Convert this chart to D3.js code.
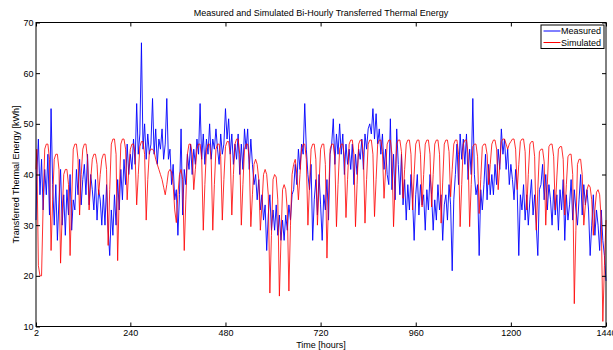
<!DOCTYPE html>
<html><head><meta charset="utf-8">
<script src="https://cdn.jsdelivr.net/npm/d3@7"></script>
<style>
body{margin:0;background:#fff}
svg{display:block}
text{font-family:"Liberation Sans",Arial,Helvetica,sans-serif;fill:#000}
</style>
</head><body>
<svg id="chart" width="613" height="350"></svg>
<script>
// ---- data (bi-hourly transferred thermal energy, kWh; sampled every 4 h) ----
const hours = [2].concat(d3.range(4, 1441, 4));
const measured = [31,
40,47,36,43,33,41, 36,44,32,53,38,30, 38,27,35,41,30,36, 28,37,32,40,29,35,
33,41,36,43,34,39, 42,36,44,34,40,37, 33,39,31,37,35,30, 36,30,38,29,24,33,
28,36,30,39,33,41, 35,43,38,46,40,44, 41,47,42,54,44,48, 66,45,50,43,48,44,
46,55,44,49,42,47, 45,49,43,46,55,43, 45,38,42,35,37,28, 36,49,32,41,38,44,
41,46,40,45,42,47, 44,54,43,48,42,47, 44,50,43,47,45,49, 45,42,48,44,46,53,
47,51,44,48,42,46, 43,48,40,46,41,49, 45,49,41,47,42,38, 40,35,39,33,36,31,
34,25,32,36,29,33, 29,34,28,32,27,31, 27,32,29,34,31,36, 37,42,38,45,41,46,
44,54,45,40,37,42, 27,35,39,32,40,34, 27,36,33,39,31,44, 46,51,42,48,44,50,
44,48,40,46,42,45, 41,46,38,44,40,45, 43,47,41,48,45,49, 50,48,53,47,52,46,
49,44,48,41,45,40, 38,51,37,44,35,49, 42,36,44,34,39,31, 38,33,40,35,27,36,
40,32,38,34,36,29, 37,33,40,36,29,35, 31,38,33,36,27,34, 36,31,38,34,21,35,
40,46,38,48,43,47, 42,48,39,45,40,55, 40,36,38,24,37,33, 38,44,35,42,36,40,
36,42,38,45,41,49, 44,47,41,45,38,42, 39,35,41,37,24,36, 33,38,31,36,30,35,
39,32,36,30,24,37, 38,42,35,40,33,38, 35,30,37,32,36,29, 37,33,39,27,36,31,
34,39,31,37,33,30, 35,40,32,38,34,37, 33,24,30,36,28,33, 30,25,33,27,24,19];
const simulated = [41,
45,22,20,20,34,45, 46,46,43,25,35,43, 44,44,41,22.5,32,40, 41,41,38,24,35,45,
46,46,43,32,40,45, 46,46,43,33,39,43, 44,44,42,36,40,43, 44,44,41,26,37,46,
47,47,44,23,36,46, 47,47,45,35,41,45, 46,46,44,34,40,45.5, 46.5,46.5,44,31,39,44.5,
45,45,44.5,43,42,41, 40,39,37.5,36,38,40.5, 41,40.5,38,33,30.5,36, 40,41,39,25,35,44,
46,46,44,37,41,45, 46,46,43,29,38,45, 46,46,43,29,38,45, 46,46,43.5,31,39,45.5,
46.5,46.5,44,32,40,46, 47,47,44,30,38,45, 46,46,43,29.7,36,42, 43,42,39,29,34,40,
41,40,36,16.6,28,39, 40,39.5,35,16,27,37, 38,37,33,17,30,40, 42,43,40,35,40,45,
46,46,43,30,38,45, 46,46,43,30,38,45, 46,46,42,23.5,35,45, 46,46,43,29.7,38,45,
46,46,43.5,31.5,39,46, 46.8,46.8,44,29.7,38,46, 46.8,46.8,44,30.4,39,46, 46.8,46.8,44,31.7,39,46,
46.8,46.8,44.5,35.3,41,46, 46.8,46.8,44,29.7,38,46, 46.8,46.8,44.5,35.3,41,46, 46.8,46.8,44,33,40,46,
46.8,46.8,44,33.6,40,46, 46.8,46.8,44,33.6,40,46, 46.8,46.8,44,30.4,38.5,46, 46.8,46.8,44.5,35.6,41,46,
46.8,46.8,44,29.7,38,46, 46.8,46.8,44,29.7,38,45.5, 46,46,43.5,32.3,39,45.5, 46,46,44,38,42,46,
46.8,46.8,45,37,42,46.5, 47,47,46,45,46,46.5, 47,47,45,37,42,46.5, 47,47,44.5,33,40,46,
46.5,46.5,43.5,29,37,44.5, 45,45,42.5,30,38,45.5, 46,46,43.5,33,39.5,45, 45.5,45.5,43,32,38,43.5,
44,44,40,14.5,29,42, 43,43,40,30,34,37, 38,37.5,35,28,33,36.5, 37,36,31,11,22,31];
const xTicks = [2, 240, 480, 720, 960, 1200, 1440];
const yTicks = [10, 20, 30, 40, 50, 60, 70];
const seriesNames = ["Measured", "Simulated"];
const seriesColors = ["#0000ff", "#ff0000"];

// ---- layout ----
const svg = d3.select("#chart");
const L = 36, R = 606, T = 22.5, B = 326.5;
const x = d3.scaleLinear().domain([2, 1440]).range([L, R]);
const y = d3.scaleLinear().domain([10, 70]).range([B, T]);

const line = d3.line().x((d, i) => x(hours[i])).y(d => y(d));

svg.append("path").datum(measured).attr("d", line)
  .attr("fill", "none").attr("stroke", seriesColors[0]).attr("stroke-width", 0.9);
svg.append("path").datum(simulated).attr("d", line)
  .attr("fill", "none").attr("stroke", seriesColors[1]).attr("stroke-width", 0.9).attr("stroke-opacity", 0.9);

// axes (inward ticks)
const fs = 9;
const fmt = d3.format("d");
function styleAxis(g, labels) {
  g.select(".domain").remove();
  g.selectAll("line").attr("stroke", "#000");
  g.selectAll("text").attr("font-size", fs).attr("font-family", '"Liberation Sans",Arial,sans-serif');
  if (!labels) g.selectAll("text").remove();
}
svg.append("g").attr("transform", `translate(0,${B})`)
  .call(d3.axisBottom(x).tickValues(xTicks).tickFormat(fmt).tickSizeInner(-4).tickSizeOuter(0).tickPadding(3.5))
  .call(g => styleAxis(g, true));
svg.append("g").attr("transform", `translate(0,${T})`)
  .call(d3.axisTop(x).tickValues(xTicks).tickSizeInner(-4).tickSizeOuter(0))
  .call(g => styleAxis(g, false));
svg.append("g").attr("transform", `translate(${L},0)`)
  .call(d3.axisLeft(y).tickValues(yTicks).tickFormat(fmt).tickSizeInner(-4).tickSizeOuter(0).tickPadding(2.5))
  .call(g => styleAxis(g, true));
svg.append("g").attr("transform", `translate(${R},0)`)
  .call(d3.axisRight(y).tickValues(yTicks).tickSizeInner(-4).tickSizeOuter(0))
  .call(g => styleAxis(g, false));

// box
svg.append("rect").attr("x", L).attr("y", T).attr("width", R - L).attr("height", B - T)
  .attr("fill", "none").attr("stroke", "#000").attr("stroke-width", 1);

// title and labels
svg.append("text").attr("x", (L + R) / 2).attr("y", 16).attr("text-anchor", "middle")
  .attr("font-size", 9).text("Measured and Simulated Bi-Hourly Transferred Thermal Energy");
svg.append("text").attr("x", (L + R) / 2).attr("y", 347.5).attr("text-anchor", "middle")
  .attr("font-size", 9).text("Time [hours]");
svg.append("text").attr("transform", `translate(19,${(T + B) / 2}) rotate(-90)`)
  .attr("text-anchor", "middle").attr("font-size", 9).text("Transferred Thermal Energy [kWh]");

// legend
const lg = svg.append("g");
lg.append("rect").attr("x", 541).attr("y", 25).attr("width", 63).attr("height", 23.5)
  .attr("fill", "#fff").attr("stroke", "#000").attr("stroke-width", 1);
seriesNames.forEach((n, i) => {
  const yy = 31 + i * 11.5;
  lg.append("line").attr("x1", 543.5).attr("x2", 560.5).attr("y1", yy).attr("y2", yy)
    .attr("stroke", seriesColors[i]).attr("stroke-width", 1);
  lg.append("text").attr("x", 561).attr("y", yy + 3.2).attr("font-size", 9).text(n);
});
</script>
</body></html>
